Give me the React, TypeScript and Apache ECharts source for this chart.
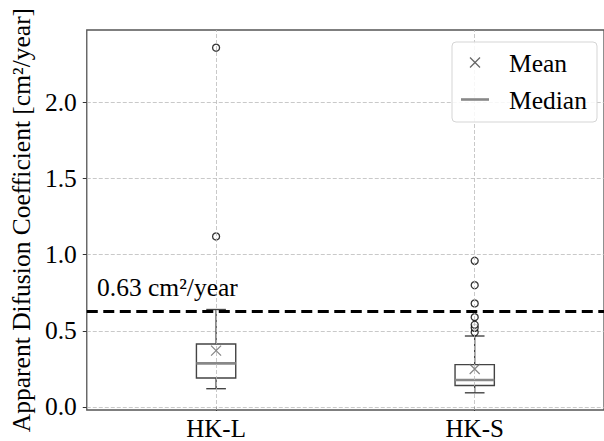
import React, { useEffect, useRef } from "react";
import * as echarts from "echarts";

const categories = ["HK-L", "HK-S"];
const whiskerLow = [0.12, 0.093];
const q1 = [0.19, 0.141];
const median = [0.286, 0.177];
const q3 = [0.414, 0.278];
const whiskerHigh = [0.64, 0.466];
const means = [0.37, 0.249];
const outliersHKL = [1.12, 2.36];
const outliersHKS = [0.49, 0.52, 0.54, 0.59, 0.68, 0.8, 0.96];
const yTicks = [0, 0.5, 1.0, 1.5, 2.0];
const threshold = 0.63;
const thresholdLabel = "0.63 cm²/year";
const yAxisName = "Apparent Difusion Coefficient [cm²/year]";
const legendNames = ["Mean", "Median"];

const FONT = "'Liberation Serif', 'DejaVu Serif', serif";
const FS = 25.5;

export default function App() {
  const ref = useRef<HTMLDivElement>(null);
  useEffect(() => {
    if (!ref.current) return;
    const chart = echarts.init(ref.current, null, { renderer: "svg" });
    const boxData = categories.map((_, i) => [
      i,
      whiskerLow[i],
      q1[i],
      median[i],
      q3[i],
      whiskerHigh[i],
    ]);
    const outlierData = [
      ...outliersHKL.map((v) => [0, v]),
      ...outliersHKS.map((v) => [1, v]),
    ];
    const meanData = means.map((v, i) => [i, v]);

    chart.setOption({
      animation: false,
      grid: {
        left: 83,
        right: -6,
        top: 30,
        bottom: 27,
        show: true,
        borderColor: "#555",
        borderWidth: 1.3,
        backgroundColor: "transparent",
      },
      xAxis: {
        type: "category",
        data: categories,
        axisLine: { show: false },
        axisTick: {
          show: true,
          alignWithLabel: true,
          length: 4,
          lineStyle: { color: "#333" },
        },
        axisLabel: {
          fontFamily: FONT,
          fontSize: 25,
          color: "#000",
          margin: 6,
        },
        splitLine: { show: false },
      },
      yAxis: {
        type: "value",
        min: -0.02,
        max: 2.476,
        name: yAxisName,
        nameLocation: "middle",
        nameGap: 52,
        nameTextStyle: { fontFamily: FONT, fontSize: FS, color: "#000" },
        axisLine: { show: false },
        axisTick: {
          show: true,
          length: 4,
          lineStyle: { color: "#333" },
          customValues: yTicks,
        },
        axisLabel: {
          fontFamily: FONT,
          fontSize: FS,
          color: "#000",
          margin: 10,
          customValues: yTicks,
          formatter: (v: number) => v.toFixed(1),
        },
        splitLine: {
          show: true,
          lineStyle: { color: "#bbb", type: [4, 2], width: 0.8 },
        },
      },
      series: [
        {
          type: "scatter",
          name: "grid-v",
          data: [],
          silent: true,
          markLine: {
            silent: true,
            symbol: "none",
            label: { show: false },
            lineStyle: { color: "#bbb", type: [4, 2], width: 0.8 },
            data: categories.map((c) => ({ xAxis: c })),
          },
        },
        {
          type: "custom",
          name: "Median",
          data: boxData,
          encode: { x: 0, y: [1, 2, 3, 4, 5] },
          z: 3,
          renderItem: (params: any, api: any) => {
            const xi = api.value(0);
            const pLow = api.coord([xi, api.value(1)]);
            const pQ1 = api.coord([xi, api.value(2)]);
            const pMed = api.coord([xi, api.value(3)]);
            const pQ3 = api.coord([xi, api.value(4)]);
            const pHigh = api.coord([xi, api.value(5)]);
            const cx = pLow[0];
            const w = api.size([1, 0])[0] * 0.152;
            const edge = { stroke: "#444", lineWidth: 1.4, fill: "none" };
            return {
              type: "group",
              children: [
                {
                  type: "line",
                  shape: { x1: cx, y1: pLow[1], x2: cx, y2: pQ1[1] },
                  style: edge,
                },
                {
                  type: "line",
                  shape: { x1: cx, y1: pQ3[1], x2: cx, y2: pHigh[1] },
                  style: edge,
                },
                {
                  type: "line",
                  shape: { x1: cx - w / 4, y1: pLow[1], x2: cx + w / 4, y2: pLow[1] },
                  style: edge,
                },
                {
                  type: "line",
                  shape: { x1: cx - w / 4, y1: pHigh[1], x2: cx + w / 4, y2: pHigh[1] },
                  style: edge,
                },
                {
                  type: "rect",
                  shape: { x: cx - w / 2, y: pQ3[1], width: w, height: pQ1[1] - pQ3[1] },
                  style: { stroke: "#444", lineWidth: 1.4, fill: "#fff" },
                },
                {
                  type: "line",
                  shape: { x1: cx - w / 2, y1: pMed[1], x2: cx + w / 2, y2: pMed[1] },
                  style: { stroke: "#888", lineWidth: 2.6 },
                },
              ],
            };
          },
        },
        {
          type: "scatter",
          name: "Outliers",
          data: outlierData,
          symbol: "circle",
          symbolSize: 7,
          z: 4,
          itemStyle: { color: "#fff", borderColor: "#000", borderWidth: 1.3 },
        },
        {
          type: "scatter",
          name: "Mean",
          data: meanData,
          symbol: "path://M0,0L10,10M0,10L10,0",
          symbolSize: 10,
          z: 5,
          itemStyle: { color: "none", borderColor: "#666", borderWidth: 1.2 },
        },
        {
          type: "scatter",
          name: "threshold",
          data: [],
          silent: true,
          markLine: {
            silent: true,
            symbol: "none",
            label: { show: false },
            z: 6,
            lineStyle: { color: "#000", type: [11, 5.5], width: 3 },
            data: [{ yAxis: threshold }],
          },
        },
      ],
      graphic: [
        {
          type: "text",
          left: 97,
          top: 274,
          z: 50,
          style: { text: thresholdLabel, fontFamily: FONT, fontSize: FS, fill: "#000" },
        },
        {
          type: "rect",
          z: 100,
          shape: { x: 452, y: 42, width: 145, height: 80, r: 4 },
          style: { fill: "rgba(255,255,255,0.85)", stroke: "#d5d5d5", lineWidth: 1 },
        },
        {
          type: "line",
          z: 101,
          shape: { x1: 470, y1: 57.5, x2: 480, y2: 67.5 },
          style: { stroke: "#666", lineWidth: 1.2 },
        },
        {
          type: "line",
          z: 101,
          shape: { x1: 470, y1: 67.5, x2: 480, y2: 57.5 },
          style: { stroke: "#666", lineWidth: 1.2 },
        },
        {
          type: "line",
          z: 101,
          shape: { x1: 461, y1: 99.5, x2: 489, y2: 99.5 },
          style: { stroke: "#888", lineWidth: 2.6 },
        },
        {
          type: "text",
          z: 101,
          x: 509,
          y: 63,
          style: {
            text: legendNames[0],
            fontFamily: FONT,
            fontSize: FS,
            fill: "#000",
            verticalAlign: "middle",
          },
        },
        {
          type: "text",
          z: 101,
          x: 509,
          y: 100,
          style: {
            text: legendNames[1],
            fontFamily: FONT,
            fontSize: FS,
            fill: "#000",
            verticalAlign: "middle",
          },
        },
      ],
    });
    return () => chart.dispose();
  }, []);
  return (
    <div
      ref={ref}
      style={{ position: "fixed", left: 0, top: 0, width: 604, height: 441, background: "#fff" }}
    />
  );
}
